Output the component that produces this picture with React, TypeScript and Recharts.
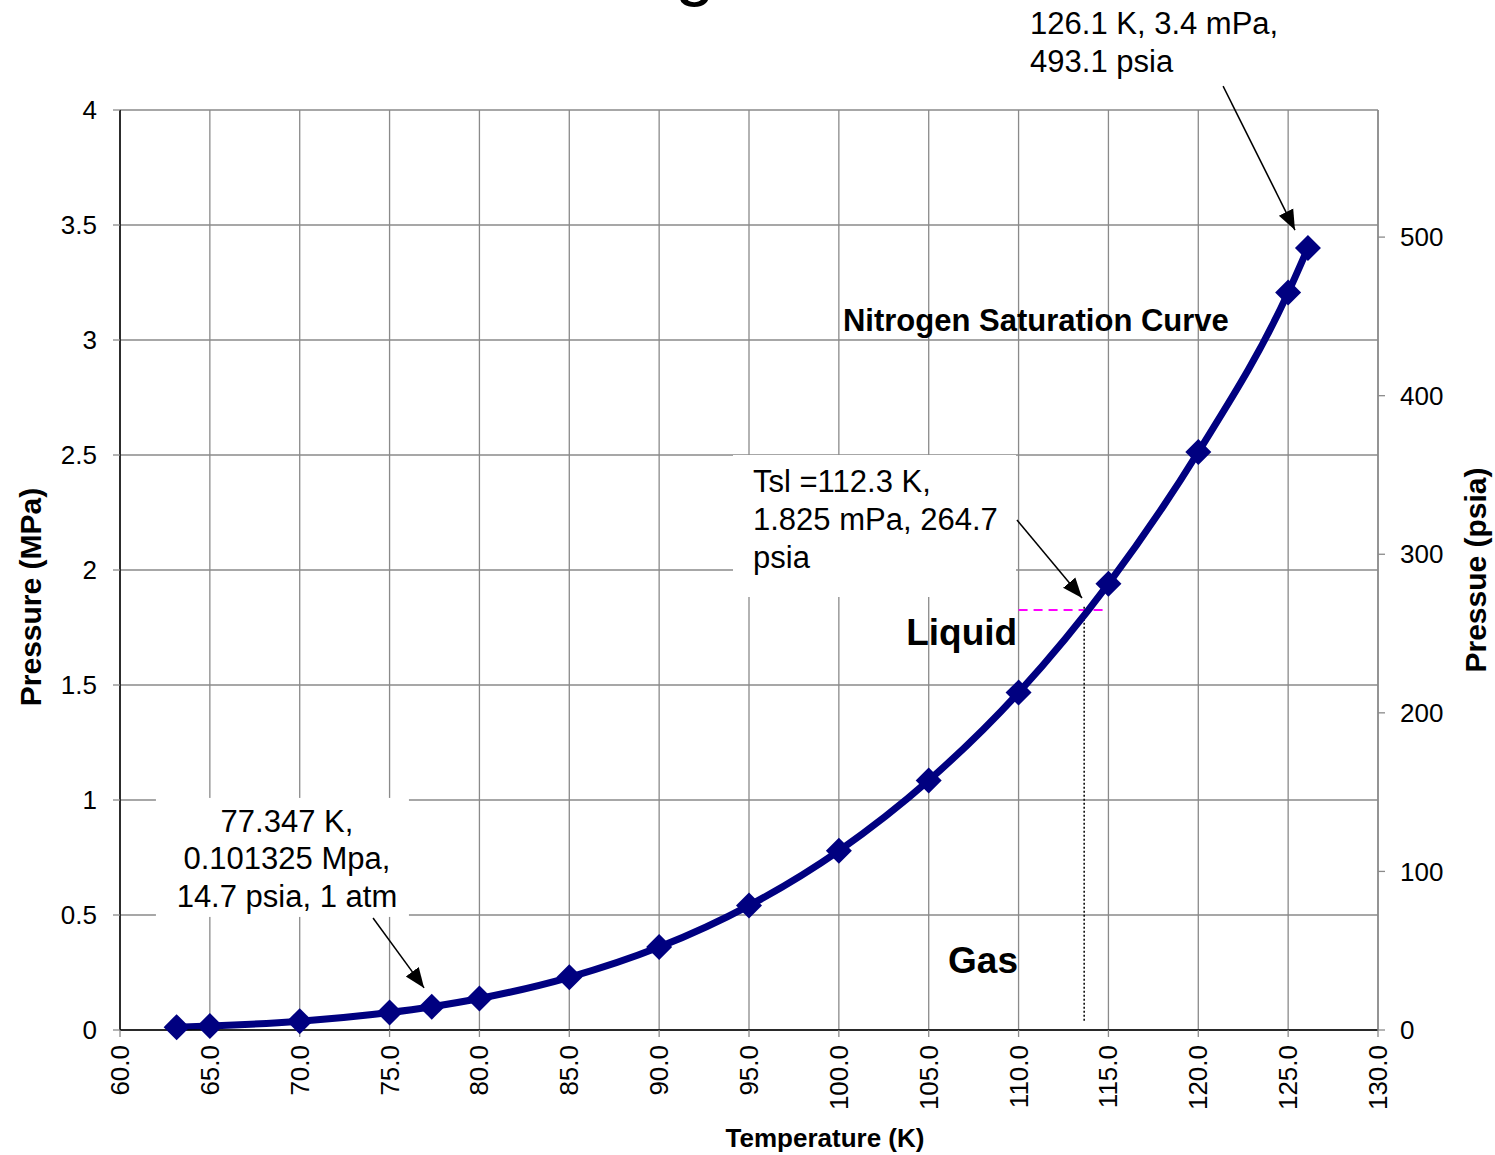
import React from "react";
import {
  LineChart,
  Line,
  XAxis,
  YAxis,
  CartesianGrid,
  ReferenceLine,
  ReferenceDot,
  Label,
} from "recharts";

const FONT = "'Liberation Sans', Arial, Helvetica, sans-serif";

// saturation points
const temperatureK = [63.15, 65, 70, 75, 77.347, 80, 85, 90, 95, 100, 105, 110, 115, 120, 125, 126.1];
const pressureMPa = [0.0125, 0.0174, 0.0385, 0.076, 0.1013, 0.137, 0.229, 0.3605, 0.541, 0.779, 1.085, 1.467, 1.94, 2.513, 3.206, 3.4];

const xTicks = [60, 65, 70, 75, 80, 85, 90, 95, 100, 105, 110, 115, 120, 125, 130];
const mpaTicks = [0, 0.5, 1, 1.5, 2, 2.5, 3, 3.5, 4];
const psiaTicks = [0, 100, 200, 300, 400, 500];
const PSIA_PER_MPA = 145.0377;

const data = temperatureK.map((t, i) => ({
  t,
  p: pressureMPa[i],
  psia: pressureMPa[i] * PSIA_PER_MPA,
}));

const NAVY = "#000080";
const GRID = "#8a8a8a";

const Diamond = (props: any) => {
  const { cx, cy } = props;
  if (cx == null || cy == null) return null;
  const s = 13;
  return (
    <polygon
      points={`${cx},${cy - s} ${cx + s},${cy} ${cx},${cy + s} ${cx - s},${cy}`}
      fill={NAVY}
    />
  );
};

const XTick = (props: any) => {
  const { x, y, payload } = props;
  return (
    <text
      x={x}
      y={y}
      transform={`rotate(-90 ${x} ${y})`}
      textAnchor="end"
      dominantBaseline="central"
      fontSize={26}
      fontFamily={FONT}
      fill="#000"
    >
      {Number(payload.value).toFixed(1)}
    </text>
  );
};

// text note anchored at its top-left corner, optional white box behind it
const note = (
  lines: string[],
  opts: { w?: number; h?: number; dx: number; baselines: number[]; anchor?: "start" | "middle" | "end"; size?: number; bold?: boolean }
) => (props: any) => {
  const { x, y } = props.viewBox;
  return (
    <g>
      {opts.w ? <rect x={x} y={y} width={opts.w} height={opts.h} fill="#fff" /> : null}
      {lines.map((ln, i) => (
        <text
          key={i}
          x={x + opts.dx}
          y={y + opts.baselines[i]}
          textAnchor={opts.anchor || "start"}
          fontSize={opts.size || 31}
          fontWeight={opts.bold ? "bold" : "normal"}
          fontFamily={FONT}
          fill="#000"
        >
          {ln}
        </text>
      ))}
    </g>
  );
};

export default function App() {
  return (
    <div style={{ position: "absolute", left: 0, top: 0, width: 1495, height: 1155, background: "#fff" }}>
      <LineChart
        width={1495}
        height={1155}
        data={data}
        margin={{ top: 110, right: 0, bottom: 0, left: 0 }}
      >
        <defs>
          <marker
            id="arrowHead"
            markerUnits="userSpaceOnUse"
            markerWidth={22}
            markerHeight={18}
            refX={20}
            refY={9}
            orient="auto"
          >
            <path d="M0,1 L20,9 L0,17 Z" fill="#000" />
          </marker>
        </defs>
        <CartesianGrid yAxisId="mpa" stroke={GRID} strokeWidth={1.3} />
        <XAxis
          dataKey="t"
          type="number"
          domain={[60, 130]}
          ticks={xTicks}
          height={125}
          tick={<XTick />}
          tickSize={7}
          tickMargin={8}
          tickLine={{ stroke: GRID, strokeWidth: 1.3 }}
          axisLine={{ stroke: "#000", strokeWidth: 1.5 }}
        >
          <Label
            content={(p: any) => {
              const vb = p.viewBox;
              return (
                <text
                  x={vb.x + 705}
                  y={vb.y + 117}
                  textAnchor="middle"
                  fontSize={26}
                  fontWeight="bold"
                  fontFamily={FONT}
                >
                  Temperature (K)
                </text>
              );
            }}
          />
        </XAxis>
        <YAxis
          yAxisId="mpa"
          orientation="left"
          width={120}
          domain={[0, 4]}
          ticks={mpaTicks}
          tick={{ fontSize: 26, fontFamily: FONT, fill: "#000" }}
          tickSize={7}
          tickMargin={16}
          tickLine={{ stroke: GRID, strokeWidth: 1.3 }}
          axisLine={{ stroke: "#000", strokeWidth: 1.5 }}
        >
          <Label
            content={(p: any) => {
              const vb = p.viewBox;
              const cx = vb.x + 30;
              const cy = vb.y + 487;
              return (
                <text
                  x={cx}
                  y={cy}
                  transform={`rotate(-90 ${cx} ${cy})`}
                  textAnchor="middle"
                  dominantBaseline="central"
                  fontSize={30}
                  fontWeight="bold"
                  fontFamily={FONT}
                >
                  Pressure (MPa)
                </text>
              );
            }}
          />
        </YAxis>
        <YAxis
          yAxisId="psia"
          orientation="right"
          width={117}
          domain={[0, 4 * PSIA_PER_MPA]}
          allowDataOverflow
          ticks={psiaTicks}
          tick={{ fontSize: 26, fontFamily: FONT, fill: "#000", textAnchor: "start" }}
          tickSize={7}
          tickMargin={15}
          tickLine={{ stroke: GRID, strokeWidth: 1.3 }}
          axisLine={{ stroke: GRID, strokeWidth: 1.5 }}
        >
          <Label
            content={(p: any) => {
              const vb = p.viewBox;
              const cx = vb.x + 97;
              const cy = vb.y + 460;
              return (
                <text
                  x={cx}
                  y={cy}
                  transform={`rotate(-90 ${cx} ${cy})`}
                  textAnchor="middle"
                  dominantBaseline="central"
                  fontSize={30}
                  fontWeight="bold"
                  fontFamily={FONT}
                >
                  Pressue (psia)
                </text>
              );
            }}
          />
        </YAxis>

        {/* Tsl markers */}
        <ReferenceLine
          yAxisId="mpa"
          segment={[{ x: 110, y: 1.826 }, { x: 114.95, y: 1.826 }]}
          stroke="#ff00ff"
          strokeWidth={2}
          strokeDasharray="9 6"
        />
        <ReferenceLine
          yAxisId="mpa"
          segment={[{ x: 113.65, y: 1.84 }, { x: 113.65, y: 0.04 }]}
          stroke="#000"
          strokeWidth={1.5}
          strokeDasharray="2 2"
        />

        {/* same curve in psia, invisible, just to drive the secondary axis */}
        <Line
          yAxisId="psia"
          dataKey="psia"
          stroke="none"
          dot={false}
          activeDot={false}
          legendType="none"
          isAnimationActive={false}
        />
        <Line
          yAxisId="mpa"
          type="monotone"
          dataKey="p"
          stroke={NAVY}
          strokeWidth={7}
          dot={<Diamond />}
          activeDot={false}
          isAnimationActive={false}
        />

        {/* arrows */}
        <ReferenceLine
          yAxisId="mpa"
          ifOverflow="visible"
          segment={[{ x: 121.38, y: 4.104 }, { x: 125.38, y: 3.478 }]}
          stroke="#000"
          strokeWidth={1.5}
          markerEnd="url(#arrowHead)"
        />
        <ReferenceLine
          yAxisId="mpa"
          segment={[{ x: 109.91, y: 2.217 }, { x: 113.53, y: 1.878 }]}
          stroke="#000"
          strokeWidth={1.5}
          markerEnd="url(#arrowHead)"
        />
        <ReferenceLine
          yAxisId="mpa"
          segment={[{ x: 74.08, y: 0.487 }, { x: 76.92, y: 0.183 }]}
          stroke="#000"
          strokeWidth={1.5}
          markerEnd="url(#arrowHead)"
        />

        {/* notes */}
        <ReferenceDot
          yAxisId="mpa"
          x={94.11}
          y={2.5}
          r={0}
          ifOverflow="visible"
          label={{
            content: note(["Tsl =112.3 K,", "1.825 mPa, 264.7", "psia"], {
              w: 283,
              h: 142,
              dx: 20,
              baselines: [37, 75, 113],
            }),
          }}
        />
        <ReferenceDot
          yAxisId="mpa"
          x={62.0}
          y={1.009}
          r={0}
          ifOverflow="visible"
          label={{
            content: note(["77.347 K,", "0.101325 Mpa,", "14.7 psia, 1 atm"], {
              w: 253,
              h: 119,
              dx: 131,
              anchor: "middle",
              baselines: [34, 71, 109],
            }),
          }}
        />
        <ReferenceDot
          yAxisId="mpa"
          x={110.64}
          y={4.457}
          r={0}
          ifOverflow="visible"
          label={{
            content: note(["126.1 K, 3.4 mPa,", "493.1 psia"], { dx: 0, baselines: [29, 67] }),
          }}
        />
        <ReferenceDot
          yAxisId="mpa"
          x={100.23}
          y={3.04}
          r={0}
          ifOverflow="visible"
          label={{
            content: note(["Nitrogen Saturation Curve"], { dx: 0, baselines: [0], size: 31, bold: true }),
          }}
        />
        <ReferenceDot
          yAxisId="mpa"
          x={109.92}
          y={1.674}
          r={0}
          ifOverflow="visible"
          label={{
            content: note(["Liquid"], { dx: 0, baselines: [0], size: 37, bold: true, anchor: "end" }),
          }}
        />
        <ReferenceDot
          yAxisId="mpa"
          x={109.97}
          y={0.248}
          r={0}
          ifOverflow="visible"
          label={{
            content: note(["Gas"], { dx: 0, baselines: [0], size: 37, bold: true, anchor: "end" }),
          }}
        />
        {/* chart title, mostly above the visible page */}
        <ReferenceDot
          yAxisId="mpa"
          x={89.98}
          y={4.513}
          r={0}
          ifOverflow="visible"
          label={{
            content: note(["Nitrogen"], { dx: 0, baselines: [0], size: 72, anchor: "middle" }),
          }}
        />
      </LineChart>
    </div>
  );
}
